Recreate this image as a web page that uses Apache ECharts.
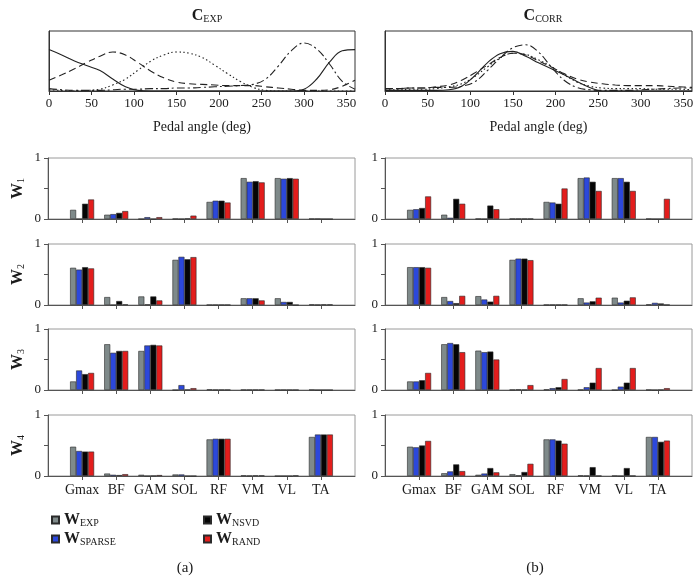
<!DOCTYPE html>
<html>
<head>
<meta charset="utf-8">
<script src="https://cdn.jsdelivr.net/npm/echarts@6/dist/echarts.min.js"></script>
<style>html,body{margin:0;padding:0;background:#fff}#c{width:700px;height:580px}</style>
</head>
<body>
<div id="c"></div>
<script>
// ---------- DATA ----------
const angles = [0,15,30,45,60,75,90,105,120,135,150,165,180,195,210,225,240,255,270,285,300,315,330,345,360];
// C_EXP curves
const expSolid   = [0.69,0.6,0.5,0.42,0.34,0.2,0.07,0.01,0,0,0,0,0,0,0,0,0,0,0,0,0.03,0.2,0.48,0.67,0.69];
const expDashed  = [0.18,0.27,0.37,0.48,0.58,0.65,0.6,0.47,0.33,0.22,0.15,0.12,0.11,0.1,0.09,0.09,0.09,0.07,0.05,0.03,0.01,0.01,0.02,0.08,0.18];
const expDotted  = [0.02,0.01,0,0.01,0.03,0.1,0.2,0.35,0.5,0.6,0.65,0.63,0.56,0.43,0.29,0.16,0.06,0.01,0,0,0,0,0,0,0];
const expDashDot = [0.04,0.02,0.01,0.01,0.01,0.02,0.03,0.03,0.04,0.04,0.05,0.05,0.06,0.07,0.08,0.09,0.11,0.2,0.42,0.67,0.8,0.7,0.45,0.16,0.03];
// C_CORR curves
const corrSolid   = [0.01,0.01,0.01,0.01,0.01,0.02,0.08,0.25,0.47,0.62,0.66,0.58,0.47,0.37,0.27,0.16,0.06,0,0,0,0,0,0,0,0];
const corrDashed  = [0.04,0.04,0.05,0.05,0.07,0.1,0.18,0.3,0.43,0.56,0.63,0.6,0.5,0.4,0.29,0.2,0.15,0.12,0.1,0.09,0.09,0.09,0.08,0.07,0.06];
const corrDotted  = [0.02,0.02,0.03,0.03,0.04,0.07,0.12,0.24,0.4,0.55,0.63,0.61,0.52,0.41,0.27,0.15,0.08,0.05,0.04,0.04,0.04,0.03,0.03,0.03,0.02];
const corrDashDot = [0.04,0.04,0.05,0.05,0.06,0.06,0.08,0.15,0.34,0.55,0.72,0.77,0.65,0.4,0.18,0.06,0.02,0.01,0.01,0.01,0.02,0.03,0.04,0.05,0.05];

const angleTicks = [0,50,100,150,200,250,300,350];
const categories = ['Gmax','BF','GAM','SOL','RF','VM','VL','TA'];
const seriesNames = ['EXP','SPARSE','NSVD','RAND'];
const yTicks = [0,0.5,1];

// panel (a): rows W1..W4, each [EXP, SPARSE, NSVD, RAND]
const aW1 = [[0.15,0.07,0,0.005,0.28,0.67,0.67,0.005],
             [0,0.08,0.03,0,0.3,0.61,0.66,0.005],
             [0.25,0.1,0,0.01,0.3,0.62,0.67,0],
             [0.32,0.13,0.03,0.055,0.27,0.6,0.66,0]];
const aW2 = [[0.61,0.13,0.14,0.74,0.003,0.11,0.11,0.01],
             [0.58,0,0.01,0.79,0.003,0.11,0.05,0.005],
             [0.62,0.065,0.14,0.75,0.003,0.11,0.05,0.01],
             [0.6,0.01,0.075,0.785,0.003,0.075,0,0.01]];
const aW3 = [[0.14,0.75,0.64,0,0.01,0.005,0.003,0.005],
             [0.32,0.61,0.73,0.08,0.005,0.005,0.003,0],
             [0.26,0.64,0.74,0.005,0.005,0.005,0.003,0],
             [0.28,0.64,0.73,0.03,0.005,0.005,0.003,0]];
const aW4 = [[0.48,0.04,0.02,0.025,0.6,0.01,0,0.64],
             [0.41,0.02,0,0.025,0.61,0.005,0,0.68],
             [0.4,0.015,0.005,0,0.61,0.01,0,0.68],
             [0.4,0.03,0.015,0,0.61,0.01,0.01,0.68]];
// panel (b)
const bW1 = [[0.15,0.07,0.005,0.005,0.28,0.67,0.67,0.005],
             [0.16,0.02,0,0.005,0.27,0.68,0.67,0],
             [0.18,0.33,0.22,0.005,0.25,0.61,0.61,0],
             [0.37,0.25,0.16,0.005,0.5,0.46,0.46,0.33]];
const bW2 = [[0.62,0.13,0.145,0.74,0.005,0.11,0.12,0.01],
             [0.62,0.065,0.09,0.76,0.005,0.04,0.04,0.035],
             [0.62,0.03,0.055,0.76,0.005,0.06,0.07,0.025],
             [0.61,0.15,0.15,0.735,0.005,0.12,0.125,0.005]];
const bW3 = [[0.14,0.75,0.645,0.005,0.01,0.005,0,0.005],
             [0.14,0.77,0.62,0.01,0.03,0.045,0.055,0],
             [0.16,0.75,0.63,0.005,0.045,0.12,0.12,0.005],
             [0.28,0.62,0.5,0.08,0.18,0.36,0.36,0.03]];
const bW4 = [[0.48,0.045,0.02,0.03,0.6,0.01,0.005,0.64],
             [0.47,0.075,0.04,0.01,0.6,0.005,0,0.64],
             [0.5,0.19,0.13,0.065,0.58,0.145,0.13,0.56],
             [0.575,0.08,0.06,0.2,0.53,0.005,0.005,0.58]];

// ---------- STYLE / LAYOUT ----------
const serif = '"Liberation Serif","DejaVu Serif",serif';
const ink = '#1a1a1a';
const barColors = ['#7f8a8a','#2c48db','#050505','#e31d1c'];
const lineTypes = ['solid',[7,4],[1.5,2.5],[8,3,2,3]];
const rich = {
  b: {fontFamily: serif, fontWeight: 'bold', fontSize: 16, lineHeight: 16, padding: [0,0,3,0], verticalAlign: 'top', color: ink},
  s: {fontFamily: serif, fontWeight: 'normal', fontSize: 10, lineHeight: 10, verticalAlign: 'bottom', color: ink}
};

const panels = [aW1,aW2,aW3,aW4,bW1,bW2,bW3,bW4];
const rowTops = [158,244,329,415];
const rowH = 61;
const padCats = [''].concat(categories, ['']);

const grid = [
  {left: 49, top: 31, width: 306, height: 60, show: true, borderColor: '#333', borderWidth: 1},
  {left: 385, top: 31, width: 307, height: 60, show: true, borderColor: '#333', borderWidth: 1}
];
const xAxis = [];
const yAxis = [];
const series = [];

[0,1].forEach(g => {
  xAxis.push({
    gridIndex: g, type: 'value', min: 0, max: 360, interval: 50,
    axisLine: {show: true, lineStyle: {color: '#333'}},
    axisTick: {show: true, length: 4, lineStyle: {color: '#333'}},
    axisLabel: {fontFamily: serif, fontSize: 13, color: ink, margin: 6, showMaxLabel: false,
      formatter: v => angleTicks.indexOf(v) >= 0 ? String(v) : ''},
    splitLine: {show: false},
    name: 'Pedal angle (deg)', nameLocation: 'middle', nameGap: 29,
    nameTextStyle: {fontFamily: serif, fontSize: 14, color: ink}
  });
  yAxis.push({
    gridIndex: g, type: 'value', min: 0, max: 1,
    axisLine: {show: true, lineStyle: {color: '#333'}},
    axisTick: {show: false}, axisLabel: {show: false}, splitLine: {show: false}
  });
});

const expCurves = [expSolid, expDashed, expDotted, expDashDot];
const corrCurves = [corrSolid, corrDashed, corrDotted, corrDashDot];
[expCurves, corrCurves].forEach((curves, g) => {
  curves.forEach((vals, k) => {
    series.push({
      type: 'line', xAxisIndex: g, yAxisIndex: g, smooth: 0.4, showSymbol: false, silent: true,
      data: angles.map((a, i) => [a, vals[i]]),
      lineStyle: {color: '#222', width: 1.1, type: lineTypes[k]}
    });
  });
});

panels.forEach((panel, p) => {
  const side = p < 4 ? 0 : 1;
  const row = p % 4;
  const gi = grid.length;
  grid.push({left: side ? 385 : 48, top: rowTops[row], width: 307, height: rowH,
    show: true, borderColor: '#9a9a9a', borderWidth: 1});
  xAxis.push({
    gridIndex: gi, type: 'category', data: padCats, boundaryGap: false,
    axisLine: {show: true, lineStyle: {color: '#555'}},
    axisTick: {show: true, length: 4, interval: (i) => i > 0 && i < padCats.length - 1, lineStyle: {color: '#555'}},
    axisLabel: {show: row === 3, interval: 0, fontFamily: serif, fontSize: 14, color: ink, margin: 7},
    splitLine: {show: false}
  });
  yAxis.push({
    gridIndex: gi, type: 'value', min: 0, max: 1, interval: 0.5,
    axisLine: {show: true, lineStyle: {color: '#555'}},
    axisTick: {show: true, length: 4, lineStyle: {color: '#555'}},
    axisLabel: {fontFamily: serif, fontSize: 13, color: ink, margin: 7,
      formatter: v => (v === 0 || v === 1) ? String(v) : ''},
    splitLine: {show: false},
    name: side === 0 ? '{b|W}{s|' + (row + 1) + '}' : '',
    nameLocation: 'middle', nameRotate: 90, nameGap: 22,
    nameTextStyle: {rich: rich}
  });
  panel.forEach((vals, k) => {
    series.push({
      type: 'bar', name: seriesNames[k], xAxisIndex: gi, yAxisIndex: gi,
      barWidth: 6, barGap: '0%', silent: true,
      data: ['-'].concat(vals, ['-']),
      itemStyle: {color: barColors[k], borderColor: '#2a2a2a', borderWidth: 0.6}
    });
  });
});

const legendCommon = {
  orient: 'vertical', icon: 'rect', itemWidth: 7, itemHeight: 7, itemGap: 0,
  selectedMode: false,
  formatter: n => '{b|W}{s|' + n + '}',
  textStyle: {rich: rich}
};

const option = {
  animation: false,
  backgroundColor: '#fff',
  title: [
    {text: '{b|C}{s|EXP}', left: 202, top: 3, textAlign: 'center', textStyle: {fontWeight: 'normal', rich: rich}},
    {text: '{b|C}{s|CORR}', left: 538, top: 3, textAlign: 'center', textStyle: {fontWeight: 'normal', rich: rich}},
    {text: '(a)', left: 180, top: 556, textAlign: 'center', textStyle: {fontFamily: serif, fontSize: 15, fontWeight: 'normal', color: ink}},
    {text: '(b)', left: 530, top: 556, textAlign: 'center', textStyle: {fontFamily: serif, fontSize: 15, fontWeight: 'normal', color: ink}}
  ],
  legend: [
    Object.assign({left: 46, top: 507, data: ['EXP','SPARSE']}, legendCommon),
    Object.assign({left: 198, top: 507, data: ['NSVD','RAND']}, legendCommon)
  ],
  grid: grid, xAxis: xAxis, yAxis: yAxis, series: series
};

const chart = echarts.init(document.getElementById('c'), null, {renderer: 'canvas'});
chart.setOption(option);
</script>
</body>
</html>
